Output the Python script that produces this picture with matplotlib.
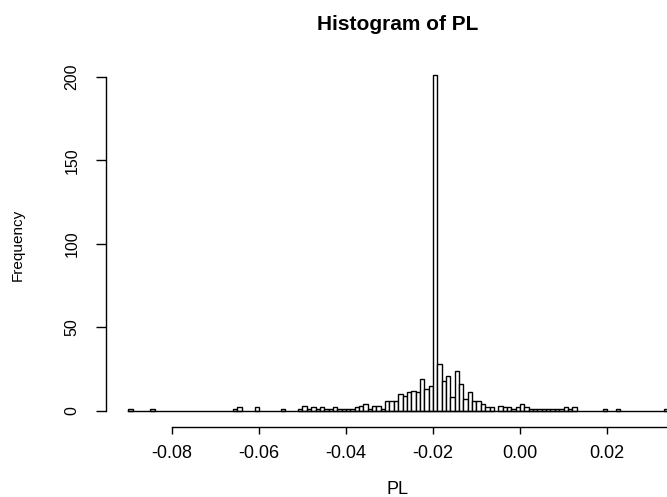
import numpy as np
import matplotlib
matplotlib.use("Agg")
import matplotlib.pyplot as plt

plt.rcParams['font.family'] = ['Liberation Sans', 'DejaVu Sans']

# bin left edges (in thousandths) and counts, bin width 0.001
bin_left = list(range(-90, 34))
count_map = {
    -90: 1, -85: 1, -66: 1, -65: 2, -61: 2, -55: 1,
    -51: 1, -50: 3, -49: 1, -48: 2, -47: 1, -46: 2, -45: 1, -44: 1,
    -43: 2, -42: 1, -41: 1, -40: 1, -39: 1, -38: 2, -37: 3, -36: 4,
    -35: 1, -34: 3, -33: 3, -32: 1, -31: 6, -30: 6, -29: 6, -28: 10,
    -27: 9, -26: 11, -25: 12, -24: 11, -23: 19, -22: 13, -21: 15,
    -20: 201, -19: 28, -18: 18, -17: 21, -16: 8, -15: 24, -14: 16,
    -13: 7, -12: 11, -11: 6, -10: 6, -9: 4, -8: 2, -7: 2, -6: 0,
    -5: 3, -4: 2, -3: 2, -2: 1, -1: 2, 0: 4, 1: 2, 2: 1, 3: 1, 4: 1,
    5: 1, 6: 1, 7: 1, 8: 1, 9: 1, 10: 2, 11: 1, 12: 2, 19: 1, 22: 1,
    33: 1,
}
counts = [count_map.get(b, 0) for b in bin_left]
edges = [b / 1000 for b in bin_left]
bin_width = 0.001

x_ticks = [-0.08, -0.06, -0.04, -0.02, 0.00, 0.02]
y_ticks = [0, 50, 100, 150, 200]

W, H = 667, 497
fig = plt.figure(figsize=(W / 100, H / 100), dpi=100)
ax = fig.add_axes([106 / W, 1 - 427 / H, (W - 106) / W, (427 - 60) / H])

# only non-empty bins as rectangles, empty ones show as the baseline
nz = [i for i, c in enumerate(counts) if c > 0]
ax.bar([edges[i] for i in nz], [counts[i] for i in nz], width=bin_width, align='edge',
       facecolor='white', edgecolor='black', linewidth=1.0)
ax.plot([edges[0], edges[-1] + bin_width], [0, 0], color='black', linewidth=1.0)

ax.set_xlim(-0.095172, 0.033793)
ax.set_ylim(-9.76, 210.0)

for s in ['top', 'right']:
    ax.spines[s].set_visible(False)
ax.spines['left'].set_bounds(0, 200)
ax.spines['bottom'].set_bounds(-0.08, 0.04)
ax.spines['left'].set_linewidth(1.0)
ax.spines['bottom'].set_linewidth(1.0)

ax.set_xticks(x_ticks)
ax.set_xticklabels([f"{v:.2f}" for v in x_ticks], fontsize=13)
ax.set_yticks(y_ticks)
ax.set_yticklabels([str(v) for v in y_ticks], fontsize=11.5, rotation=90, va='center')
ax.tick_params(axis='x', length=5, width=1.0, pad=8)
ax.tick_params(axis='y', length=7, width=1.0, pad=12)

fig.text(398 / W, 1 - 24 / H, "Histogram of PL", ha='center', va='center',
         fontsize=15, fontweight='bold')
fig.text(398 / W, 1 - 490 / H, "PL", ha='center', va='center', fontsize=13)
fig.text(18 / W, 1 - 245 / H, "Frequency", ha='center', va='center',
         fontsize=11, rotation=90)

fig.savefig("out.png", dpi=100)
